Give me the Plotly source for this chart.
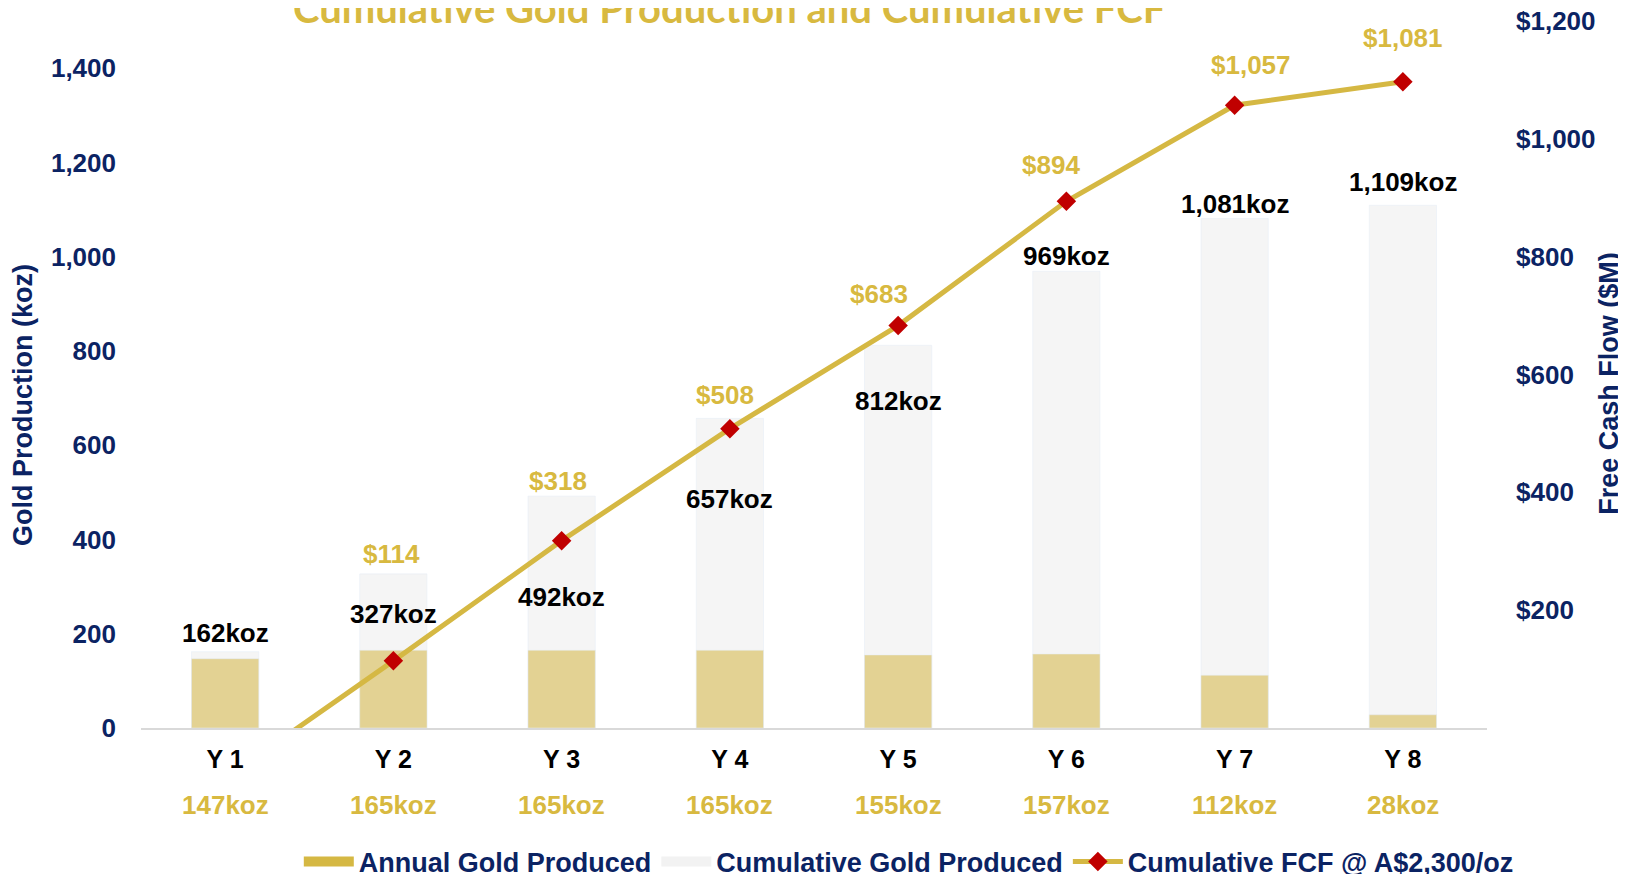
import plotly.graph_objects as go

years = ['Y 1', 'Y 2', 'Y 3', 'Y 4', 'Y 5', 'Y 6', 'Y 7', 'Y 8']
annual_koz = [147, 165, 165, 165, 155, 157, 112, 28]
cumulative_koz = [162, 327, 492, 657, 812, 969, 1081, 1109]
cum_fcf = [-86, 114, 318, 508, 683, 894, 1057, 1097]
fcf_text = ['', '$114', '$318', '$508', '$683', '$894', '$1,057', '$1,081']

left_ticks = [0, 200, 400, 600, 800, 1000, 1200, 1400]
right_ticks = [200, 400, 600, 800, 1000, 1200]

# where the data labels sit (hand placed in the original)
cum_label_pos = [202, 242, 279, 486, 694, 1002, 1112, 1158]
fcf_label_pos = [0, 296, 419, 565, 736, 956, 1125, 1171]
fcf_label_dx = [0, -2, -4, -5, -19, -15, 16, 0]

NAVY = '#0B2363'
GOLD = '#D5B843'
GOLD_TXT = '#D8B940'
FONT = 'Liberation Sans'

fig = go.Figure()

fig.add_trace(go.Bar(
    x=years, y=cumulative_koz, name='Cumulative Gold Produced',
    marker=dict(color='#F5F5F5'), width=0.4, showlegend=False,
))
fig.add_trace(go.Bar(
    x=years, y=annual_koz, name='Annual Gold Produced',
    marker=dict(color='#E3D293'), width=0.4, showlegend=False,
))
fig.add_trace(go.Scatter(
    x=years, y=cum_fcf, yaxis='y2', mode='lines+markers',
    name='Cumulative FCF @ A$2,300/oz',
    line=dict(color=GOLD, width=5),
    marker=dict(symbol='diamond', size=15, color='#C00000'),
    legendrank=3,
))
# wide legend swatches for the two bar series
fig.add_trace(go.Scatter(
    x=[None], y=[None], mode='lines', name='Annual Gold Produced',
    line=dict(color=GOLD, width=14), legendrank=1,
))
fig.add_trace(go.Scatter(
    x=[None], y=[None], mode='lines', name='Cumulative Gold Produced',
    line=dict(color='#F2F2F2', width=14), legendrank=2,
))

lab_font = dict(family=FONT, size=26, weight='bold')
axis_font = dict(family=FONT, size=26, color=NAVY, weight='bold')
axtitle_font = dict(family=FONT, size=27, color=NAVY, weight='bold')

ann = []
for i, yr in enumerate(years):
    ann.append(dict(x=yr, y=cum_label_pos[i], xref='x', yref='y', yanchor='middle',
                    text=f'{cumulative_koz[i]:,}koz', showarrow=False,
                    font=dict(lab_font, color='black')))
    ann.append(dict(x=yr, y=0, xref='x', yref='paper', yanchor='middle', yshift=-77,
                    text=f'{annual_koz[i]}koz', showarrow=False,
                    font=dict(lab_font, color=GOLD_TXT)))
    if fcf_text[i]:
        ann.append(dict(x=yr, y=fcf_label_pos[i], xref='x', yref='y2', yanchor='middle',
                        xshift=fcf_label_dx[i],
                        text=fcf_text[i], showarrow=False,
                        font=dict(lab_font, color=GOLD_TXT)))

# chart title (sits partly above the page edge, as in the original)
ann.append(dict(x=0.4365, xref='paper', y=1, yref='paper', yanchor='bottom', yshift=-13,
                text='Cumulative Gold Production and Cumulative FCF', showarrow=False,
                font=dict(family='Lato', size=40, color=GOLD_TXT, weight='bold')))
# axis titles
ann.append(dict(x=0, xref='paper', xshift=-118, xanchor='center',
                y=0.457, yref='paper', yanchor='middle',
                text='Gold Production (koz)', textangle=-90, showarrow=False,
                font=axtitle_font))
ann.append(dict(x=1, xref='paper', xshift=122, xanchor='center',
                y=0.487, yref='paper', yanchor='middle',
                text='Free Cash Flow ($M)', textangle=-90, showarrow=False,
                font=axtitle_font))

fig.update_layout(
    width=1626, height=874,
    # page body adds an 8px offset, so margins are trimmed on the top/left
    margin=dict(l=133, r=147, t=13, b=154, autoexpand=False),
    plot_bgcolor='white', paper_bgcolor='white',
    barmode='overlay',
    font=dict(family=FONT, color=NAVY),
    xaxis=dict(
        range=[-0.5, 7.5], showgrid=False, showline=True, linecolor='#D9D9D9', linewidth=2,
        ticks='', ticklabelstandoff=8, automargin=False,
        tickfont=dict(family=FONT, size=25, color='black', weight='bold'),
    ),
    yaxis=dict(
        range=[0, 1500], tickvals=left_ticks, ticktext=[f'{v:,}' for v in left_ticks],
        showgrid=False, zeroline=False, ticks='', ticklabelstandoff=24, automargin=False,
        tickfont=axis_font, ticklabeloverflow='allow',
    ),
    yaxis2=dict(
        overlaying='y', side='right', range=[0, 1200],
        tickvals=right_ticks, ticktext=[f'${v:,}' for v in right_ticks],
        showgrid=False, zeroline=False, ticks='', ticklabelstandoff=28, automargin=False,
        tickfont=axis_font, ticklabeloverflow='allow',
    ),
    legend=dict(
        orientation='h', x=0.554, xanchor='center', xref='container',
        y=0.023, yanchor='middle', yref='container',
        font=dict(family=FONT, size=27, color=NAVY, weight='bold'),
        itemwidth=50, traceorder='normal',
    ),
    annotations=ann,
)

fig.write_html('out.html')
